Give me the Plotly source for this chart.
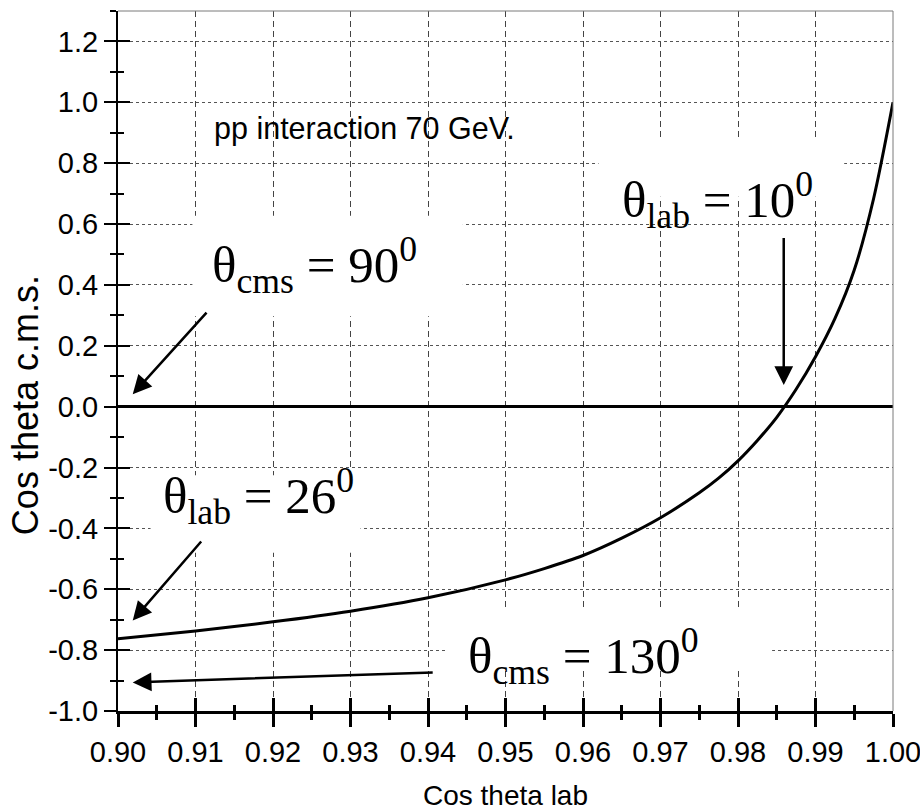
import plotly.graph_objects as go

# Kinematic relation for elastic pp scattering at 70 GeV
cos_lab = [0.900, 0.910, 0.920, 0.930, 0.940, 0.950, 0.955, 0.960, 0.965, 0.970,
           0.975, 0.9775, 0.980, 0.9825, 0.985, 0.9875, 0.990, 0.9925, 0.995, 0.9975, 1.000]
cos_cms = [-0.763, -0.737, -0.707, -0.672, -0.628, -0.569, -0.532, -0.489, -0.432, -0.365,
           -0.283, -0.235, -0.178, -0.111, -0.035, 0.057, 0.164, 0.289, 0.449, 0.684, 1.000]

x_ticks = [0.90, 0.91, 0.92, 0.93, 0.94, 0.95, 0.96, 0.97, 0.98, 0.99, 1.00]
y_ticks = [-1.0, -0.8, -0.6, -0.4, -0.2, 0.0, 0.2, 0.4, 0.6, 0.8, 1.0, 1.2]

# Labels with arrows: (text, text centre x, text centre y, arrow tail x, tail y, head x, head y)
labels = [
    ("θ<sub>cms</sub> = 90<sup>0</sup>", 0.9253, 0.464, 0.9116, 0.314, 0.9019, 0.041),
    ("θ<sub>lab</sub> = 10<sup>0</sup>", 0.9773, 0.679, 0.9859, 0.559, 0.9859, 0.071),
    ("θ<sub>lab</sub> = 26<sup>0</sup>", 0.9181, -0.292, 0.9109, -0.438, 0.9019, -0.703),
    ("θ<sub>cms</sub> = 130<sup>0</sup>", 0.9601, -0.818, 0.9408, -0.873, 0.9019, -0.906),
]

# White backing boxes behind the labels (hide the grid there)
boxes = [
    (0.9096, 0.9445, 0.297, 0.627),
    (0.9620, 0.9937, 0.690, 0.880),
    (0.9042, 0.9313, -0.480, -0.225),
    (0.9425, 0.9844, -0.867, -0.671),
]

SANS = "Liberation Sans Narrow, Arial Narrow, Liberation Sans, Arial"
SERIF = "Liberation Serif, Times New Roman, serif"

fig = go.Figure()

fig.add_trace(go.Scatter(
    x=cos_lab, y=cos_cms, mode="lines",
    line=dict(color="black", width=3, shape="spline", smoothing=0.8),
    showlegend=False, hoverinfo="skip",
))
# companion trace so the inner-tick axes get drawn
fig.add_trace(go.Scatter(x=[], y=[], xaxis="x2", yaxis="y2", showlegend=False))

for x0, x1, y0, y1 in boxes:
    fig.add_shape(type="rect", xref="x", yref="y", x0=x0, x1=x1, y0=y0, y1=y1,
                  fillcolor="white", line=dict(width=0), layer="between")

# thin frame on top and right
fig.add_shape(type="line", xref="paper", yref="paper", x0=0, x1=1, y0=1, y1=1,
              line=dict(color="#7a7a7a", width=1))
fig.add_shape(type="line", xref="paper", yref="paper", x0=1, x1=1, y0=0, y1=1,
              line=dict(color="#7a7a7a", width=1))

for text, tx, ty, ax, ay, hx, hy in labels:
    fig.add_annotation(x=tx, y=ty, xref="x", yref="y", text=text, showarrow=False,
                       font=dict(family=SERIF, size=51, color="black"))
    fig.add_annotation(x=hx, y=hy, ax=ax, ay=ay, xref="x", yref="y", axref="x", ayref="y",
                       text="", showarrow=True, arrowhead=2, arrowsize=1.5,
                       arrowwidth=2.5, arrowcolor="black", standoff=0, startstandoff=0)

fig.add_annotation(x=0.9318, y=0.913, xref="x", yref="y", text="pp interaction 70 GeV.",
                   showarrow=False, font=dict(family="Liberation Sans, Arial", size=30.5, color="black"))

fig.add_annotation(x=-0.12, y=0.005, xref="paper", yref="y", text="Cos theta c.m.s.",
                   textangle=-90, showarrow=False, xanchor="center", yanchor="middle",
                   font=dict(family="Liberation Sans, Arial", size=36, color="black"))
fig.add_annotation(x=0.5, y=-0.121, xref="paper", yref="paper", text="Cos theta lab",
                   showarrow=False, xanchor="center", yanchor="middle",
                   font=dict(family=SANS, size=28, color="black"))

fig.update_layout(
    width=920, height=812,
    margin=dict(l=118, r=27, t=11, b=101, autoexpand=False),
    paper_bgcolor="white", plot_bgcolor="white",
    font=dict(family=SANS, size=29, color="black"),
    xaxis=dict(
        range=[0.9, 1.0], tickvals=x_ticks, ticktext=[f"{v:.2f}" for v in x_ticks],
        ticklabeloverflow="allow", automargin=False,
        showline=True, linecolor="black", linewidth=3,
        ticks="outside", ticklen=13, tickwidth=3, tickcolor="black",
        minor=dict(dtick=0.005, ticks="outside", ticklen=6, tickwidth=3, tickcolor="black", showgrid=False),
        showgrid=True, gridcolor="#444444", gridwidth=1, griddash="6px,4px",
        zeroline=False, tickfont=dict(family=SANS, size=29),
    ),
    yaxis=dict(
        range=[-1.0, 1.3], tickvals=y_ticks, ticktext=[f"{v:.1f}" for v in y_ticks],
        automargin=False,
        showline=True, linecolor="black", linewidth=2,
        ticks="outside", ticklen=12, tickwidth=2, tickcolor="black",
        minor=dict(dtick=0.1, ticks="outside", ticklen=6, tickwidth=2, tickcolor="black", showgrid=False),
        showgrid=True, gridcolor="#555555", gridwidth=1, griddash="3px,3px",
        zeroline=True, zerolinecolor="black", zerolinewidth=3,
        tickfont=dict(family=SANS, size=29),
    ),
    xaxis2=dict(
        range=[0.9, 1.0], overlaying="x", anchor="y", side="bottom", automargin=False,
        tickvals=x_ticks, showticklabels=False, ticks="inside", ticklen=13, tickwidth=3,
        tickcolor="black",
        minor=dict(dtick=0.005, ticks="inside", ticklen=6, tickwidth=3, tickcolor="black", showgrid=False),
        showgrid=False, showline=False, zeroline=False,
    ),
    yaxis2=dict(
        range=[-1.0, 1.3], overlaying="y", anchor="x", side="left", automargin=False,
        tickvals=y_ticks, showticklabels=False, ticks="inside", ticklen=12, tickwidth=2,
        tickcolor="black",
        minor=dict(dtick=0.1, ticks="inside", ticklen=6, tickwidth=2, tickcolor="black", showgrid=False),
        showgrid=False, showline=False, zeroline=False,
    ),
)

fig.write_html("out.html")
